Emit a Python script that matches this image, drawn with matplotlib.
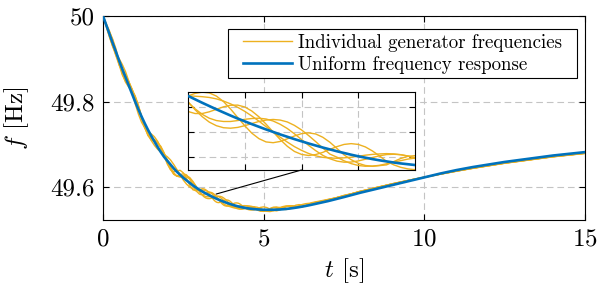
import numpy as np
import matplotlib
matplotlib.use('Agg')
import matplotlib.pyplot as plt
from matplotlib.patches import ConnectionPatch
from matplotlib.path import Path

plt.rcParams['font.family'] = 'cmr10'
plt.rcParams['mathtext.fontset'] = 'cm'
plt.rcParams['axes.unicode_minus'] = False
plt.rcParams['axes.formatter.use_mathtext'] = True

# time samples [s], finer inside the zoomed window
t = np.round(np.concatenate([np.arange(0, 3.01, 0.1),
                             np.arange(3.05, 4.61, 0.05),
                             np.arange(4.7, 6.51, 0.1),
                             np.arange(7.0, 15.01, 0.5)]), 2)

# uniform frequency response [Hz]
uniform = np.array([
    50.000, 49.979, 49.958, 49.937, 49.917, 49.896, 49.876, 49.857, 49.838, 49.819,
    49.800, 49.782, 49.765, 49.749, 49.734, 49.720, 49.707, 49.694, 49.682, 49.671,
    49.662, 49.653, 49.644, 49.636, 49.629, 49.622, 49.616, 49.610, 49.604, 49.599,
    49.594,
    49.5918, 49.5896, 49.5875, 49.5854, 49.5834, 49.5814, 49.5795, 49.5777, 49.5759, 49.5742,
    49.5725, 49.5709, 49.5693, 49.5678, 49.5663, 49.5649, 49.5635, 49.5622, 49.5609, 49.5597,
    49.5585, 49.5574, 49.5563, 49.5553, 49.5544, 49.5535, 49.5527, 49.5520, 49.5513, 49.5507,
    49.5502, 49.5497,
    49.5489, 49.5482, 49.5477, 49.5474, 49.5473, 49.5473, 49.5474, 49.5476, 49.5479, 49.5485,
    49.5492, 49.5501, 49.5511, 49.5522, 49.5534, 49.5547, 49.5561, 49.5576, 49.5592,
    49.5675, 49.577, 49.587, 49.596, 49.605, 49.614, 49.623, 49.632, 49.640, 49.647,
    49.653, 49.659, 49.664, 49.669, 49.674, 49.678, 49.682])

# individual generators, deviation from the uniform response [mHz]
gen1_dev = [
    0, 2.8, 7.4, 7.2, 0, -9.6, -13.5, -9.6, 0, 9.6, 13.5, 9.6, 0, -9.6, -13.5, -9.6, 0, 9.6, 13.5, 9.6,
    0, -9.6, -13.5, -9.6, 0, 9.6, 12.8, 8.6, 0, -7.6, -10,
    -9.1, -6.9, -3.7, 0, 3.6, 6.6, 8.6, 9.2, 8.4, 6.4, 3.4, 0, -3.3, -6.1, -7.9, -8.4, -7.7, -5.8, -3.1, 0,
    3.0, 5.5, 7.1, 7.6, 6.9, 5.2, 2.8, 0, -1.5, -2.5, -3.0, -3.0,
    -2.0, 0.7, 5.1, 6.7, 5.1, 1.5, -1.8, -2.9, -1.2, 2.3, 5.5, 6.7, 5.6, 3.0, 0.6, -0.2, 0.9, 3.0, 4.8,
    4.0, 2.0, 3.5, 2.8, 3.0, 2.0, 0.5, -1.0, -2.0, -2.5, -2.5, -2.5, -2.5, -2.5, -2.5, -2.5, -2.5]
gen2_dev = [
    0, -1.6, -5.1, -8.1, -8.4, -5.4, 0, 5.4, 9.3, 10.8, 9.3, 5.4, 0, -5.4, -9.3, -10.8, -9.3, -5.4, 0, 5.4,
    9.3, 10.8, 9.3, 5.4, 0, -5.4, -8.8, -9.7, -7.9, -4.3, 0,
    2.0, 3.9, 5.5, 6.7, 7.3, 7.5, 7.2, 6.4, 5.2, 3.6, 1.8, 0, -1.8, -3.4, -4.8, -5.8, -6.4, -6.6, -6.3, -5.5,
    -4.5, -3.1, -1.6, 0, 1.6, 3.0, 4.1, 5.0, 5.5, 5.6, 5.3, 4.7,
    3.1, 0.7, -1.5, -2.8, -3.0, -2.1, -0.3, 1.9, 3.9, 5.3, 5.9, 5.5, 4.4, 3.0, 1.6, 0.8, 0.6, 1.1, 2.0,
    2.5, 3.5, 2.5, 3.0, 2.5, 1.5, 0.0, -1.5, -2.5, -3.0, -3.0, -3.0, -3.0, -3.0, -3.0, -3.0, -3.0]
gen3_dev = [
    0, 2.4, 1.1, -4.1, -9.2, -10.1, -5.4, 1.9, 8.2, 10.8, 8.2, 1.9, -5.4, -10.1, -10.1, -5.4, 1.9, 8.2, 10.8, 8.2,
    1.9, -5.4, -10.1, -10.1, -5.4, 1.9, 7.8, 9.7, 7.0, 1.5, -4.0,
    -6.1, -7.4, -7.8, -7.2, -5.8, -3.8, -1.3, 1.3, 3.6, 5.5, 6.7, 7.0, 6.5, 5.3, 3.4, 1.2, -1.2, -3.3, -5.0, -6.0,
    -6.3, -5.9, -4.7, -3.0, -1.0, 1.0, 2.9, 4.4, 5.3, 5.6, 5.2, 4.2,
    1.4, -1.8, -3.5, -3.1, -0.9, 2.2, 4.8, 5.7, 4.9, 2.9, 0.8, -0.3, 0.0, 1.6, 3.5, 5.0, 5.4, 4.7, 3.4,
    3.0, 2.5, 3.5, 2.5, 3.0, 2.0, 0.5, -1.0, -2.0, -2.5, -2.5, -2.5, -2.5, -2.5, -2.5, -2.5, -2.5]
gen4_dev = [
    0, -3.2, -7.2, -7.8, -3.2, 4.6, 10.9, 13.2, 10.4, 3.6, -4.6, -10.9, -13.2, -10.4, -3.6, 4.6, 10.9, 13.2, 10.4, 3.6,
    -4.6, -10.9, -13.2, -10.4, -3.6, 4.6, 10.9, 12.5, 9.4, 3.1, -3.8,
    -6.7, -8.9, -10.3, -10.5, -9.8, -8.1, -5.7, -2.8, 0.4, 3.4, 6.0, 8.0, 9.2, 9.5, 8.8, 7.3, 5.1, 2.5, -0.3, -3.0,
    -3.8, -5.0, -5.7, -5.9, -5.5, -4.5, -3.2, -1.5, 0.2, 1.8, 3.3, 4.4,
    5.5, 5.0, 2.7, -1.0, -3.6, -4.2, -2.6, 0.4, 3.8, 6.3, 7.1, 6.2, 4.1, 1.6, -0.1, -0.5, 0.4, 2.1, 4.0,
    1.5, 4.0, 2.0, 3.5, 2.5, 2.0, 0.5, -1.5, -2.5, -3.0, -3.0, -3.0, -3.0, -3.0, -3.0, -3.0, -3.0]
gen5_dev = [
    0, -0.7, 4.3, 9.2, 7.0, -2.2, -10.5, -11.5, -4.2, 6.1, 12.0, 9.3, 0, -9.3, -12.0, -6.1, 4.2, 11.5, 10.5, 2.2,
    -7.8, -12.2, -7.8, 2.2, 10.5, 11.5, 4.0, -5.4, -10.1, -7.4, 0,
    3.8, 6.8, 8.4, 8.5, 7.0, 4.2, 0.7, -2.8, -5.8, -7.6, -8.0, -6.9, -4.5, -1.3, 2.0, 4.9, 6.8, 7.4, 6.6, 4.6,
    1.8, -1.2, -3.2, -4.5, -5.0, -4.6, -3.4, -2.2, 0.6, 3.2, 5.1, 6.0,
    5.0, 0.7, -3.2, -3.9, -1.1, 3.1, 5.9, 5.6, 2.8, -0.2, -1.3, 0.4, 3.5, 5.8, 5.9, 4.0, 1.6, 0.5, 1.2,
    3.5, 2.5, 3.0, 3.0, 2.0, 1.5, 0.0, -1.5, -2.5, -2.5, -2.5, -2.5, -2.5, -2.5, -2.5, -2.5, -2.5]
gen_devs = [gen1_dev, gen2_dev, gen3_dev, gen4_dev, gen5_dev]

x_ticks = [0, 5, 10, 15]
y_ticks = [49.6, 49.8, 50.0]
y_labels = ['49.6', '49.8', '50']
labels = ['Individual generator frequencies', 'Uniform frequency response']

# zoomed window and the point the connector starts from
zoom_t = (3.0, 4.6)
zoom_f = (49.5465, 49.5965)
zoom_xticks = [3.4, 3.8, 4.2]
zoom_yticks = [49.555, 49.571, 49.587]
spot = (3.52, 49.584)

c_gen = '#EDB120'
c_uni = '#0072BD'
grid_kw = dict(color='#c4c4c4', linestyle=(0, (6, 3.5)), linewidth=0.8)


def draw(a):
    for d in gen_devs:
        a.plot(t, uniform + np.array(d) / 1000, color=c_gen, lw=1.0, zorder=2)
    a.plot(t, uniform, color=c_uni, lw=1.9, zorder=3)
    a.grid(True, **grid_kw)
    a.set_axisbelow(True)
    for s in a.spines.values():
        s.set_linewidth(0.8)


def wide_box(x0, y0, width, height, mutation_size):
    # legend frame with extra room left and right only
    px = 10
    x1, y1 = x0 + width + px, y0 + height
    x0 = x0 - px
    return Path([(x0, y0), (x1, y0), (x1, y1), (x0, y1), (x0, y0)], closed=True)


fig = plt.figure(figsize=(5.98, 2.91), dpi=100)
ax = fig.add_axes([103 / 598, 1 - 220 / 291, 482 / 598, 204 / 291])
draw(ax)
ax.set_xlim(0, 15)
ax.set_ylim(49.5234, 50.0)
ax.set_xticks(x_ticks)
ax.set_yticks(y_ticks)
ax.set_yticklabels(y_labels)
ax.tick_params(direction='in', length=4, width=0.8, top=True, right=True,
               labelsize=18, pad=6)
ax.set_xlabel('$t$ [s]', fontsize=18, labelpad=4)
ax.set_ylabel('$f$ [Hz]', fontsize=18, labelpad=14)

h = ax.get_lines()
leg = ax.legend([h[0], h[-1]], labels, loc='upper right',
                bbox_to_anchor=((567 - 103) / 482, 1 - 13 / 204), borderaxespad=0,
                fontsize=13.6, fancybox=False, edgecolor='black', framealpha=1,
                handlelength=2.6, handletextpad=0.35, labelspacing=0.2, borderpad=0.25)
leg.get_frame().set_linewidth(0.8)
leg.get_frame().set_boxstyle(wide_box)

axins = fig.add_axes([188 / 598, 1 - 170 / 291, 227 / 598, 78 / 291])
draw(axins)
axins.set_xlim(*zoom_t)
axins.set_ylim(*zoom_f)
axins.set_xticks(zoom_xticks)
axins.set_yticks(zoom_yticks)
axins.tick_params(direction='in', length=4, width=0.8, top=True, right=True,
                  labelbottom=False, labelleft=False)

con = ConnectionPatch(xyA=spot, coordsA=ax.transData, xyB=(0.5, 0),
                      coordsB=axins.transAxes, color='black', lw=0.8, zorder=5)
fig.add_artist(con)

fig.savefig('out.png', dpi=100)
